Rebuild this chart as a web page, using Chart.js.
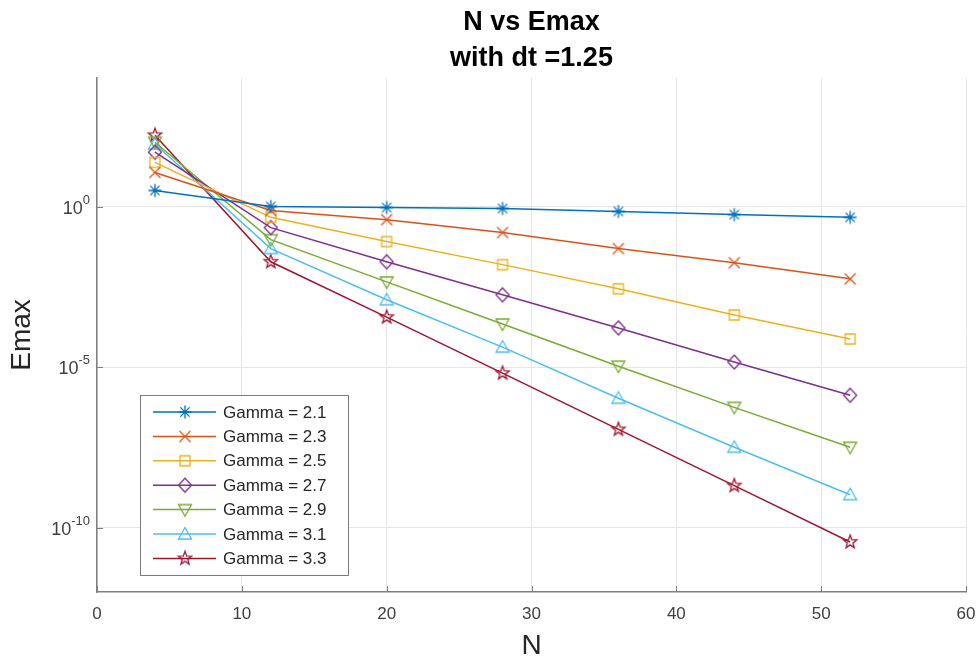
<!DOCTYPE html>
<html>
<head>
<meta charset="utf-8">
<script src="https://cdn.jsdelivr.net/npm/chart.js@4.4.0/dist/chart.umd.min.js"></script>
<style>body{margin:0;background:#fff}</style>
</head>
<body>
<canvas id="myChart" width="979" height="664"></canvas>
<script>
// data
const nValues = [4, 12, 20, 28, 36, 44, 52];
const gammaLabels = ['Gamma = 2.1', 'Gamma = 2.3', 'Gamma = 2.5', 'Gamma = 2.7', 'Gamma = 2.9', 'Gamma = 3.1', 'Gamma = 3.3'];
const emax21 = [3.16, 1.0, 0.93, 0.87, 0.70, 0.56, 0.46];
const emax23 = [11.5, 0.75, 0.39, 0.155, 0.049, 0.0178, 0.0056];
const emax25 = [23.7, 0.46, 0.081, 0.0155, 0.00275, 4.2e-4, 7.5e-5];
const emax27 = [49, 0.22, 0.019, 1.78e-3, 1.66e-4, 1.44e-5, 1.33e-6];
const emax29 = [100, 0.093, 4.5e-3, 2.2e-4, 1.07e-5, 5.6e-7, 3.2e-8];
const emax31 = [88, 0.049, 1.25e-3, 4.2e-5, 1.07e-6, 3.2e-8, 1.07e-9];
const emax33 = [165, 0.019, 3.6e-4, 6.5e-6, 1.15e-7, 2.05e-9, 3.6e-11];
const yTickValues = [1e-10, 1e-5, 1];

const seriesList = [emax21, emax23, emax25, emax27, emax29, emax31, emax33];
const colors = ['#0072BD', '#D95319', '#EDB120', '#7E2F8E', '#77AC30', '#4DBEEE', '#A2142F'];
const markerKinds = ['asterisk', 'x', 'square', 'diamond', 'triDown', 'triUp', 'pentagram'];

const FONT = '"Liberation Sans", Arial, sans-serif';
const AXIS_COLOR = '#808080';

// small canvases used as point markers (MATLAB style, hollow)
function makeMarker(kind, color) {
  const c = document.createElement('canvas');
  c.width = 20; c.height = 20;
  const g = c.getContext('2d');
  g.strokeStyle = color;
  g.lineWidth = 1.3;
  g.translate(10, 10);
  g.beginPath();
  if (kind === 'asterisk') {
    const r = 6.5, d = r * 0.7071;
    g.moveTo(-r, 0); g.lineTo(r, 0);
    g.moveTo(0, -r); g.lineTo(0, r);
    g.moveTo(-d, -d); g.lineTo(d, d);
    g.moveTo(-d, d); g.lineTo(d, -d);
  } else if (kind === 'x') {
    const r = 5.5;
    g.moveTo(-r, -r); g.lineTo(r, r);
    g.moveTo(-r, r); g.lineTo(r, -r);
  } else if (kind === 'square') {
    g.rect(-5, -5, 10, 10);
  } else if (kind === 'diamond') {
    g.moveTo(0, -7); g.lineTo(6.5, 0); g.lineTo(0, 7); g.lineTo(-6.5, 0); g.closePath();
  } else if (kind === 'triDown') {
    g.moveTo(-6.5, -5); g.lineTo(6.5, -5); g.lineTo(0, 6.5); g.closePath();
  } else if (kind === 'triUp') {
    g.moveTo(-6.5, 5); g.lineTo(6.5, 5); g.lineTo(0, -6.5); g.closePath();
  } else if (kind === 'pentagram') {
    for (let i = 0; i < 10; i++) {
      const r = i % 2 === 0 ? 7 : 2.9;
      const a = -Math.PI / 2 + i * Math.PI / 5;
      if (i === 0) g.moveTo(r * Math.cos(a), r * Math.sin(a));
      else g.lineTo(r * Math.cos(a), r * Math.sin(a));
    }
    g.closePath();
  }
  g.stroke();
  return c;
}

const markers = markerKinds.map((k, i) => makeMarker(k, colors[i]));

const datasets = seriesList.map((vals, i) => ({
  label: gammaLabels[i],
  data: vals.map((v, j) => ({ x: nValues[j], y: v })),
  borderColor: colors[i],
  backgroundColor: colors[i],
  borderWidth: 1.5,
  pointStyle: markers[i],
  pointRadius: 7,
  tension: 0,
  fill: false
}));

// y tick labels as 10^n, inward tick marks and the legend box
const matlabBits = {
  id: 'matlabBits',
  afterDraw(chart) {
    const ctx = chart.ctx;
    const area = chart.chartArea;
    const xs = chart.scales.x, ys = chart.scales.y;
    ctx.save();
    // inward ticks
    ctx.strokeStyle = AXIS_COLOR;
    ctx.lineWidth = 1;
    ctx.beginPath();
    xs.ticks.forEach(t => {
      const px = Math.round(xs.getPixelForValue(t.value)) + 0.5;
      ctx.moveTo(px, area.bottom); ctx.lineTo(px, area.bottom - 6);
    });
    ys.ticks.forEach(t => {
      const py = Math.round(ys.getPixelForValue(t.value)) + 0.5;
      ctx.moveTo(area.left, py); ctx.lineTo(area.left + 6, py);
    });
    ctx.stroke();

    // y tick labels
    ctx.fillStyle = '#404040';
    ctx.textBaseline = 'alphabetic';
    yTickValues.forEach(v => {
      const py = ys.getPixelForValue(v);
      const expText = String(Math.round(Math.log10(v)));
      ctx.font = '13px ' + FONT;
      const we = ctx.measureText(expText).width;
      ctx.font = '18px ' + FONT;
      const wb = ctx.measureText('10').width;
      const right = area.left - 7;
      ctx.textAlign = 'left';
      ctx.fillText('10', right - we - wb, py + 7);
      ctx.font = '13px ' + FONT;
      ctx.fillText(expText, right - we, py - 3);
    });

    // legend
    const lx = area.left + 43, ly = area.bottom - 197;
    const lw = 208, lh = 180;
    ctx.fillStyle = '#fff';
    ctx.fillRect(lx, ly, lw, lh);
    ctx.strokeStyle = '#7a7a7a';
    ctx.lineWidth = 1;
    ctx.strokeRect(lx + 0.5, ly + 0.5, lw, lh);
    ctx.font = '17px ' + FONT;
    ctx.textAlign = 'left';
    ctx.textBaseline = 'middle';
    chart.data.datasets.forEach((ds, i) => {
      const cy = ly + 17 + i * 24.4;
      ctx.strokeStyle = ds.borderColor;
      ctx.lineWidth = 1.5;
      ctx.beginPath();
      ctx.moveTo(lx + 13, cy); ctx.lineTo(lx + 76, cy);
      ctx.stroke();
      ctx.drawImage(markers[i], lx + 45 - 10, cy - 10);
      ctx.fillStyle = '#262626';
      ctx.fillText(ds.label, lx + 83, cy + 1);
    });
    ctx.restore();
  }
};

const ctx = document.getElementById('myChart').getContext('2d');
const myChart = new Chart(ctx, {
  type: 'line',
  data: { datasets: datasets },
  options: {
    responsive: false,
    animation: false,
    events: [],
    layout: { padding: { left: 0, right: 13, top: 0, bottom: 0 } },
    plugins: {
      legend: { display: false },
      tooltip: { enabled: false },
      title: {
        display: true,
        fullSize: false,
        text: ['N vs Emax', 'with dt =1.25'],
        color: '#000',
        font: { family: FONT, size: 27, weight: 'bold', lineHeight: 36 / 27 },
        padding: { top: 5, bottom: 1 }
      }
    },
    scales: {
      x: {
        type: 'linear',
        min: 0,
        max: 60,
        ticks: { stepSize: 10, color: '#404040', font: { family: FONT, size: 17 }, padding: 12 },
        grid: { color: '#e6e6e6', drawTicks: false },
        border: { display: true, color: AXIS_COLOR, width: 1.5 },
        title: { display: true, text: 'N', color: '#262626', font: { family: FONT, size: 28 }, padding: { top: 4, bottom: 1 } },
        afterFit: s => { s.height = 72; s.paddingLeft = 0; s.paddingRight = 0; }
      },
      y: {
        type: 'logarithmic',
        min: 1e-12,
        max: 1e4,
        afterBuildTicks: s => { s.ticks = yTickValues.map(v => ({ value: v })); },
        ticks: { display: false },
        grid: { color: '#e6e6e6', drawTicks: false },
        border: { display: true, color: AXIS_COLOR, width: 1.5 },
        title: { display: true, text: 'Emax', color: '#262626', font: { family: FONT, size: 28 }, padding: { top: 5, bottom: 0 } },
        afterFit: s => { s.width = 97; s.paddingTop = 0; s.paddingBottom = 0; }
      }
    }
  },
  plugins: [matlabBits]
});
</script>
</body>
</html>
